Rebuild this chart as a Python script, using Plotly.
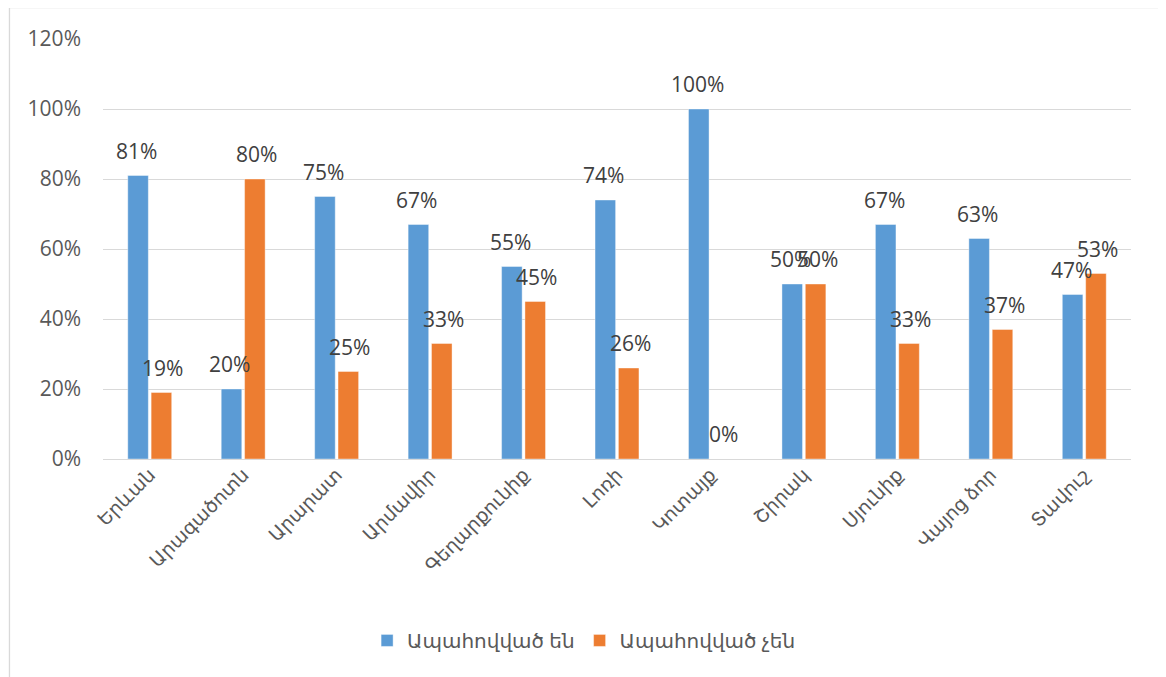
import plotly.graph_objects as go

categories = ["Երևան", "Արագածոտն", "Արարատ", "Արմավիր", "Գեղարքունիք", "Լոռի",
              "Կոտայք", "Շիրակ", "Սյունիք", "Վայոց ձոր", "Տավուշ"]
series_names = ["Ապահովված են", "Ապահովված չեն"]
provided = [0.81, 0.20, 0.75, 0.67, 0.55, 0.74, 1.00, 0.50, 0.67, 0.63, 0.47]
not_provided = [0.19, 0.80, 0.25, 0.33, 0.45, 0.26, 0.00, 0.50, 0.33, 0.37, 0.53]
y_ticks = [0, 0.2, 0.4, 0.6, 0.8, 1.0, 1.2]
y_tick_labels = ["0%", "20%", "40%", "60%", "80%", "100%", "120%"]

colors = ["#5b9bd5", "#ed7d31"]
FONT = "Open Sans, DejaVu Sans, sans-serif"

fig = go.Figure()
for name, vals, col in zip(series_names, [provided, not_provided], colors):
    fig.add_trace(go.Bar(
        x=categories, y=vals, name=name,
        marker=dict(color=col, line=dict(color="rgba(255,255,255,0.5)", width=0.8)),
    ))

annotations = []
for vals, shift in [(provided, -13.2), (not_provided, 13.2)]:
    for c, v in zip(categories, vals):
        annotations.append(dict(
            x=c, y=v, xref="x", yref="y", text=f"{round(v * 100)}%",
            showarrow=False, xshift=shift, yshift=25, yanchor="middle",
            font=dict(family=FONT, size=21, color="#404040"),
        ))

fig.update_layout(
    width=1158, height=669, autosize=False,
    margin=dict(l=95, r=35, t=31, b=218),
    paper_bgcolor="white", plot_bgcolor="white",
    barmode="group", bargap=0.5, bargroupgap=0.12,
    font=dict(family=FONT, color="#595959"),
    showlegend=True,
    legend=dict(orientation="h", x=0.468, xanchor="center", y=-0.432, yanchor="middle",
                font=dict(family=FONT, size=20, color="#595959"), traceorder="normal"),
    annotations=annotations,
    shapes=[dict(type="rect", xref="paper", yref="paper", x0=-0.091, x1=1.028,
                 y0=-0.6, y1=1.0748, line=dict(color="#d9d9d9", width=1.3),
                 fillcolor="rgba(0,0,0,0)", layer="below")],
)
fig.update_xaxes(
    tickangle=-45, tickfont=dict(family=FONT, size=19, color="#595959"),
    showgrid=False, showline=False, ticks="",
)
fig.update_yaxes(
    range=[0, 1.2], tickvals=y_ticks, ticktext=y_tick_labels,
    tickfont=dict(family=FONT, size=21, color="#595959"),
    showgrid=True, gridcolor="#d9d9d9", gridwidth=1.3,
    zeroline=True, zerolinecolor="#d9d9d9", zerolinewidth=1.3,
    showline=False, ticks="", ticklabelstandoff=21,
)

fig.write_html("out.html")
